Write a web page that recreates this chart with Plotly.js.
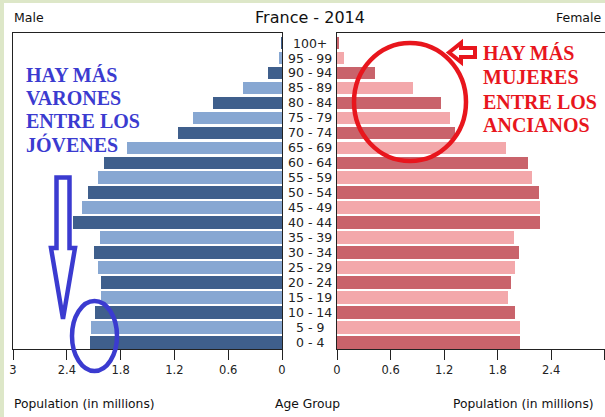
<!DOCTYPE html>
<html>
<head>
<meta charset="utf-8">
<script src="https://cdn.plot.ly/plotly-3.0.1.min.js"></script>
<style>
  html, body { margin: 0; padding: 0; background: #ffffff; }
  #chart { width: 605px; height: 417px; }
</style>
</head>
<body>
<div id="chart"></div>
<script>
// ---- data ----
const ageGroups = ["0 - 4","5 - 9","10 - 14","15 - 19","20 - 24","25 - 29","30 - 34","35 - 39","40 - 44","45 - 49","50 - 54","55 - 59","60 - 64","65 - 69","70 - 74","75 - 79","80 - 84","85 - 89","90 - 94","95 - 99","100+"];
const maleMillions   = [2.14,2.13,2.09,2.02,2.02,2.05,2.10,2.03,2.33,2.23,2.16,2.05,1.98,1.73,1.16,0.99,0.77,0.43,0.16,0.03,0.01];
const femaleMillions = [2.05,2.05,2.00,1.92,1.95,1.99,2.04,1.98,2.28,2.27,2.26,2.18,2.14,1.89,1.32,1.27,1.17,0.85,0.43,0.08,0.026];
const tickValues = [0, 0.6, 1.2, 1.8, 2.4, 3];
const tickLabels = ["0", "0.6", "1.2", "1.8", "2.4", "3"];
const chartTitle = "France - 2014";
const leftLabel = "Male";
const rightLabel = "Female";
const xTitle = "Population (in millions)";
const centerTitle = "Age Group";
const blueNote = ["HAY MÁS", "VARONES", "ENTRE LOS", "JÓVENES"];
const redNote = ["HAY MÁS", "MUJERES", "ENTRE LOS", "ANCIANOS"];

// ---- helpers (pixel -> paper) ----
const W = 605, H = 417;
const px = x => x / W;
const py = y => 1 - y / H;

const maleColors = ageGroups.map((_, i) => i % 2 === 0 ? "#3f5f8c" : "#87a7d2");
const femaleColors = ageGroups.map((_, i) => i % 2 === 0 ? "#c9636b" : "#f3a8ab");

const font = "DejaVu Sans, sans-serif";
const serif = "Liberation Serif, Times New Roman, serif";

const traces = [
  { type: "bar", orientation: "h", y: ageGroups, x: maleMillions, xaxis: "x", yaxis: "y",
    width: 0.85, marker: { color: maleColors, line: { width: 0 } }, hoverinfo: "x+y" },
  { type: "bar", orientation: "h", y: ageGroups, x: femaleMillions, xaxis: "x2", yaxis: "y2",
    width: 0.85, marker: { color: femaleColors, line: { width: 0 } }, hoverinfo: "x+y" }
];

const yRange = [-0.425, 20.67];
const axisCommon = {
  showgrid: false, zeroline: false, showline: true, linecolor: "#222", linewidth: 1,
  mirror: true, ticks: "outside", ticklen: 10, tickcolor: "#222", tickwidth: 1,
  tickfont: { family: font, size: 11.5, color: "#222" },
  tickvals: tickValues, ticktext: tickLabels, fixedrange: true
};
const yCommon = {
  type: "category", range: yRange, showgrid: false, zeroline: false, showline: true,
  linecolor: "#222", linewidth: 1, mirror: true, showticklabels: false, ticks: "",
  domain: [py(349), py(33)], fixedrange: true
};

const annotations = [];
ageGroups.forEach(g => annotations.push({
  xref: "paper", yref: "y", x: px(309.5), y: g, text: g, showarrow: false,
  xanchor: "center", yanchor: "middle", font: { family: font, size: 12.5, color: "#222" }
}));
annotations.push(
  { xref: "paper", yref: "paper", x: px(12), y: py(18), text: leftLabel, showarrow: false,
    xanchor: "left", yanchor: "middle", font: { family: font, size: 12.5, color: "#111" } },
  { xref: "paper", yref: "paper", x: px(604), y: py(18), text: rightLabel, showarrow: false,
    xanchor: "right", yanchor: "middle", font: { family: font, size: 12.5, color: "#111" } },
  { xref: "paper", yref: "paper", x: px(12), y: py(404), text: xTitle, showarrow: false,
    xanchor: "left", yanchor: "middle", font: { family: font, size: 12.3, color: "#111" } },
  { xref: "paper", yref: "paper", x: px(307), y: py(404), text: centerTitle, showarrow: false,
    xanchor: "center", yanchor: "middle", font: { family: font, size: 12.3, color: "#111" } },
  { xref: "paper", yref: "paper", x: px(596), y: py(404), text: xTitle, showarrow: false,
    xanchor: "right", yanchor: "middle", font: { family: font, size: 12.3, color: "#111" } }
);
const blueY = [75, 98.5, 121.5, 144];
blueNote.forEach((t, i) => annotations.push({
  xref: "paper", yref: "paper", x: px(24), y: py(blueY[i]), text: "<b>" + t + "</b>", showarrow: false,
  xanchor: "left", yanchor: "middle", font: { family: serif, size: 20, color: "#3b3bd0" }
}));
const redY = [53.5, 77, 101.5, 125];
redNote.forEach((t, i) => annotations.push({
  xref: "paper", yref: "paper", x: px(481), y: py(redY[i]), text: "<b>" + t + "</b>", showarrow: false,
  xanchor: "left", yanchor: "middle", font: { family: serif, size: 20, color: "#e8161d" }
}));

function pathFrom(points) {
  return "M " + points.map(p => px(p[0]) + "," + py(p[1])).join(" L ") + " Z";
}

const shapes = [
  // light green frame
  { type: "rect", xref: "paper", yref: "paper", x0: 0, x1: px(4), y0: 0, y1: 1,
    fillcolor: "#dde7c8", line: { width: 0 }, layer: "above" },
  { type: "rect", xref: "paper", yref: "paper", x0: 0, x1: 1, y0: py(3), y1: 1,
    fillcolor: "#dde7c8", line: { width: 0 }, layer: "above" },
  // blue arrow
  { type: "path", xref: "paper", yref: "paper",
    path: pathFrom([[56.5,177.5],[69.5,177.5],[69.5,248],[75,248],[63,319],[51,248],[56.5,248]]),
    line: { color: "#3b3bd0", width: 4.5 }, fillcolor: "rgba(0,0,0,0)", layer: "above" },
  // blue ellipse
  { type: "circle", xref: "paper", yref: "paper", x0: px(72), x1: px(117), y0: py(371), y1: py(301),
    line: { color: "#3b3bd0", width: 4.5 }, layer: "above" },
  // red ellipse
  { type: "circle", xref: "paper", yref: "paper", x0: px(354), x1: px(466), y0: py(161), y1: py(43),
    line: { color: "#e8161d", width: 4.5 }, layer: "above" },
  // red arrow
  { type: "path", xref: "paper", yref: "paper",
    path: pathFrom([[449,52.5],[461,43],[461,48],[475,48],[475,57],[461,57],[461,62]]),
    line: { color: "#e8161d", width: 4 }, fillcolor: "rgba(0,0,0,0)", layer: "above" }
];

const layout = {
  width: W, height: H,
  margin: { l: 0, r: 0, t: 0, b: 0, pad: 0 },
  paper_bgcolor: "#ffffff", plot_bgcolor: "#ffffff",
  showlegend: false, bargap: 0,
  title: { text: chartTitle, x: px(310), y: py(17.5), xanchor: "center", yanchor: "middle",
    font: { family: font, size: 16, color: "#111" } },
  xaxis: Object.assign({}, axisCommon, { domain: [px(13), px(282)], range: [3, 0], anchor: "y" }),
  xaxis2: Object.assign({}, axisCommon, { domain: [px(337), 1], range: [0, 3.003], anchor: "y2" }),
  yaxis: Object.assign({}, yCommon, { anchor: "x" }),
  yaxis2: Object.assign({}, yCommon, { anchor: "x2", matches: "y" }),
  annotations: annotations,
  shapes: shapes
};

Plotly.newPlot("chart", traces, layout, { displayModeBar: false, staticPlot: true });
</script>
</body>
</html>
